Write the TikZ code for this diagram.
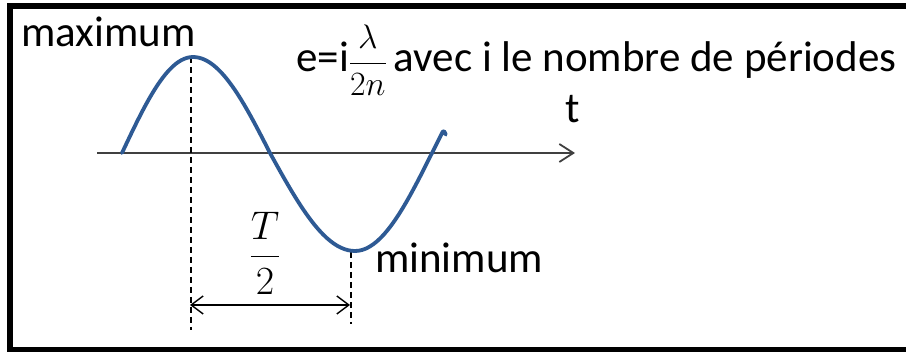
\documentclass[tikz,border=0pt]{standalone}
\usepackage{fix-cm}
\usepackage{fontspec}
\setmainfont{Carlito}
\usepackage{amsmath}
\usetikzlibrary{arrows.meta}
\definecolor{wave}{HTML}{2E5A94}
\definecolor{axisgray}{HTML}{404040}
\tikzset{
  lbl/.style={inner sep=0pt, anchor=base west, font=\fontsize{43}{50}\selectfont},
  guide/.style={black, line width=1.2pt, dash pattern=on 6pt off 4pt},
  barb/.style={line width=1.3pt, {Straight Barb[length=12pt,width=18pt,line width=1.4pt]}-{Straight Barb[length=12pt,width=18pt,line width=1.4pt]}},
}
\begin{document}
\begin{tikzpicture}[x=1pt,y=-1pt]
\useasboundingbox (0,0) rectangle (906,352);
\fill[white] (0,0) rectangle (906,352);
\draw[line width=5.5pt] (10,6) rectangle (915,350);
% axis
\coordinate (axl) at (97,153);
\coordinate (axr) at (575,153);
\draw[axisgray, line width=2.2pt, -{Straight Barb[length=14pt,width=18pt,line width=1.8pt]}] (axl) -- (axr);
% guides
\coordinate (maxpt) at (191,57);
\coordinate (maxbot) at (191,330);
\coordinate (minpt) at (351,252);
\coordinate (minbot) at (351,324);
\draw[guide] (maxpt) -- (maxbot);
\draw[guide] (minpt) -- (minbot);
% wave
\draw[wave, line width=3.8pt, line join=round, line cap=round]
  plot[domain=0:1, samples=25] ({122+71*\x},{153-96*sin(\x*90)})
  -- plot[domain=0:1, samples=25] ({193+77*\x},{153-96*cos(\x*90)})
  -- plot[domain=0:1, samples=25] ({270+85*\x},{153+98*sin(\x*90)})
  -- plot[domain=0:1.14, samples=25] ({355+77*\x},{153+98*cos(\x*90)})
  .. controls +(0.5,-2) and +(-1,-3) .. ++(3,3);
% double arrow
\coordinate (da) at (190,305);
\coordinate (db) at (350,305);
\draw[barb] (da) -- (db);
% labels
\node[lbl] (maxlbl) at (21,47) {maximum};
\node[lbl] (minlbl) at (375,273) {minimum};
\node[lbl] (tlbl) at (565,123) {t};
\node[lbl] (formula) at (296,72) {e=i{\fontsize{34}{40}\selectfont$\dfrac{\lambda}{2n}$}\,avec i le nombre de périodes};
\node[inner sep=0pt, anchor=base, font=\fontsize{40}{46}\selectfont] (half) at (265,267) {$\dfrac{T}{2}$};
\end{tikzpicture}
\end{document}
